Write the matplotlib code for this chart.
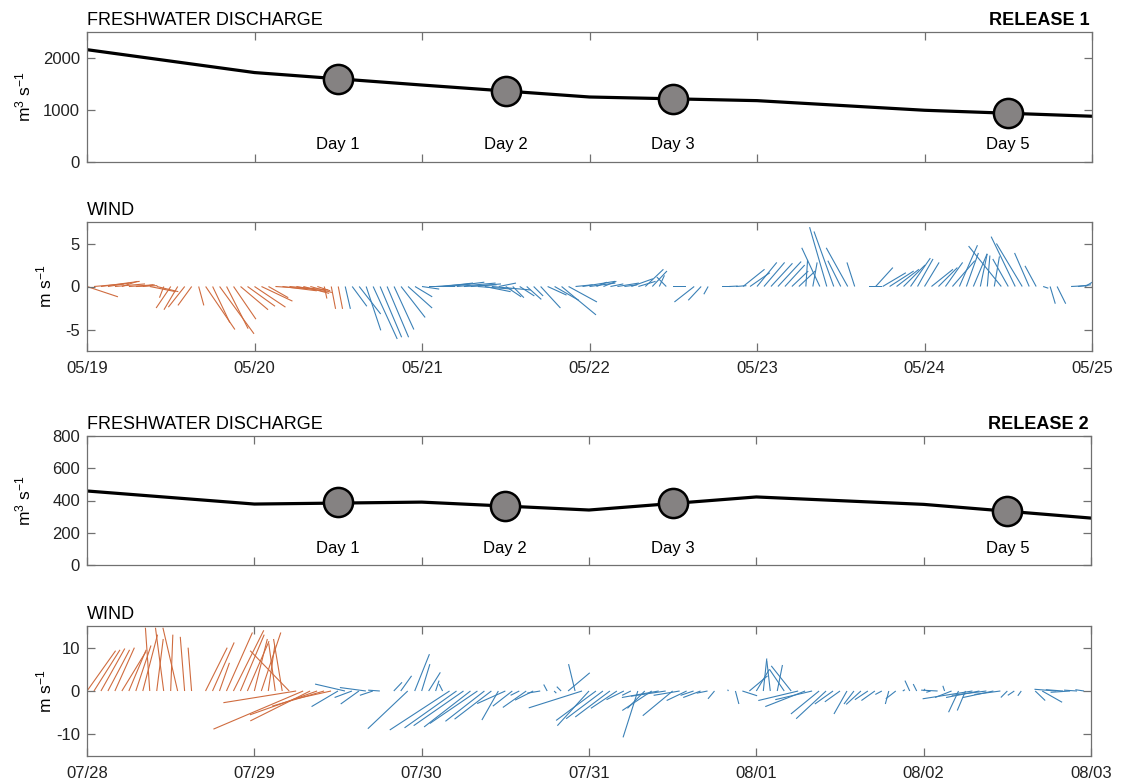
import numpy as np
import matplotlib.pyplot as plt

plt.rcParams['font.family'] = ['Liberation Sans', 'DejaVu Sans']
plt.rcParams['mathtext.default'] = 'regular'
plt.rcParams['axes.unicode_minus'] = False

# ── Freshwater discharge, daily values (m3/s), day 0 = first date ─────────────
days = [0, 1, 2, 3, 4, 5, 6]
q1 = [2160, 1720, 1480, 1250, 1180, 995, 880]
q2 = [459, 378, 390, 341, 422, 376, 291]

release_days = [1.5, 2.5, 3.5, 5.5]
release_labels = ['Day 1', 'Day 2', 'Day 3', 'Day 5']
q1_release = [1600, 1365, 1215, 935]
q2_release = [391, 365, 382, 332]

dates1 = ['05/19', '05/20', '05/21', '05/22', '05/23', '05/24', '05/25']
dates2 = ['07/28', '07/29', '07/30', '07/31', '08/01', '08/02', '08/03']

# ── Hourly wind (m/s), hour 0 = first date ────────────────────────────────────
u1 = [3.6, 3.5, 4.5, 2.5, 3.5, 1.8, 3.0, 2.5, 1.2, 3.0, 2.5, -0.5,
      -1.7, -1.6, -1.9, -1.6, 0.6, 3.4, 2.0, 4.0, 2.5, 2.6, 3.2, 3.2,
      3.6, 3.6, 2.3, 4.5, 4.0, 4.5, 3.5, 3.0, 2.5, 1.5, 0.3, 0.5,
      0.5, 0.6, 1.7, 2.5, 1.7, 2.8, 2.5, 2.5, 2.3, 2.8, 2.8, 2.0,
      2.0, 3.0, 4.0, 3.5, 4.0, 4.5, 3.8, 3.5, 4.0, 3.0, 4.5, 2.0,
      1.8, 1.3, 1.7, 1.7, 1.1, 2.3, 2.2, 2.8, 4.0, 3.3, 2.0, 3.8,
      3.0, 1.2, 1.5, 1.5, 2.5, 1.5, 2.5, 2.0, 2.1, 1.7, 0.6, -1.1,
      1.5, 0, 0, -2.3, -1.5, -0.5, 0, 1.0, 1.0, 1.2, 2.5, 2.3,
      2.3, 2.4, 2.5, 2.7, 2.3, 1.9, 1.9, 0.2, 0.5, -2.1, -2.0, -2.3,
      -1.5, -2.5, -0.9, 0, 1.5, 2.0, 2.7, 2.8, 2.6, 2.5, 2.3, 1.8,
      1.7, 2.5, 2.2, 2.0, 2.6, 2.1, 1.4, 1.6, 0.8, 0.3, 0.6, -3.8,
      -1.8, -2.8, -3.0, -1.7, -1.3, 0.6, 0.6, 1.0, 0, 1.9, 1.5, 1.7,
      1.3]
v1 = [-1.2, 0.3, 0.6, 0.4, 0.3, 0.6, 0.2, 0.1, 0.2, -0.6, -0.6, -1.3,
      -2.5, -2.7, -2.4, -2.2, -2.2, -5.0, -4.2, -5.5, -4.9, -3.8, -2.7, -2.3,
      -2.4, -1.7, -1.3, -0.3, -0.5, -0.4, -0.6, -0.8, -0.7, -0.5, -1.4, -2.6,
      -2.6, -2.6, -2.3, -3.2, -5.1, -6.1, -5.9, -5.9, -5.0, -3.6, -2.5, -1.2,
      -0.3, 0.0, 0.3, 0.4, 0.5, 0.4, 0.2, 0.3, -0.3, -0.6, -0.4, 0.4,
      -1.2, -1.3, -1.1, -1.5, -1.1, -2.5, -1.0, -1.6, -3.3, -1.8, 0.2, 0.6,
      0.4, 0.5, 0.6, 0.3, 0.4, 0.2, 0.9, 0.6, 2.0, 1.8, 1.3, 1.1,
      0.0, 0, 0, -1.8, -1.6, -0.9, 0, 0.0, 0.05, 0.1, 2.0, 1.6,
      2.8, 2.8, 2.7, 2.9, 2.5, 1.8, 1.8, 3.1, 2.8, 4.5, 6.9, 6.4,
      3.0, 4.5, 2.8, 0, 0.0, 2.2, 1.6, 1.8, 2.0, 2.5, 3.3, 3.2,
      2.8, 2.0, 2.2, 2.8, 3.0, 4.8, 3.9, 3.8, 3.8, 3.6, 3.5, 4.7,
      3.2, 5.8, 5.0, 3.9, 2.4, -0.2, -2.0, -2.0, 0, 0.1, 0.2, 1.0,
      1.3]
u2 = [6.6, 6.0, 5.5, 5.0, 4.5, 5.5, 4.0, 3.5, 3.4, -1.0, 1.5, -1.9,
      0.5, -3.4, -1.0, -0.8, 0, 5.0, 5.0, 2.3, 6.0, 7.0, 5.5, 5.0,
      3.0, 4.5, 1.5, -1.5, -2.0, -9.0, -16.8, -20.7, -13.8, -15.5, -12.0, -9.0,
      -6.1, -6.9, -4.0, -4.2, -6.0, -3.0, -2.7, 0, 1.9, 2.5, -9.2, 3.4,
      1.9, 2.7, 0.8, -0.8, -13.8, -12.0, -11.5, -10.7, -11.0, -9.0, -8.5, -3.8,
      -6.5, -4.5, -2.0, -5.4, -4.2, -3.0, -0.8, 0.5, -1.0, 5.0, -1.5, -12.3,
      -7.3, -9.2, -8.5, -8.0, -6.0, -4.0, -2.0, -3.4, -4.0, -6.8, -8.5, -8.0,
      -6.9, -6.0, -4.6, -3.0, -4.0, -2.5, -1.5, 0, -0.2, 0.8, 3.4, 4.2,
      3.0, 0.8, -0.8, 1.2, -3.4, -4.6, -9.2, -9.2, -8.5, -6.5, -6.9, -4.2,
      -3.5, -3.0, -2.3, -3.4, -3.0, -3.1, -1.5, -0.8, -2.3, 0.5, -1.1, -0.8,
      0.3, -1.0, -3.8, -0.4, -3.8, -2.3, -1.9, -11.5, -7.7, -8.0, -7.0, -6.0,
      -1.5, -1.5, -0.8, 0, 2.3, 4.6, 0, -5.0, -4.0, -4.5, -3.0, -2.0,
      0.5]
v2 = [9.3, 9.5, 9.8, 9.5, 10.0, 9.0, 9.5, 10.5, 13.0, 14.6, 12.0, 14.6,
      13.0, 14.6, 12.5, 10.0, 0, 10.0, 11.2, 6.5, 13.5, 14.0, 13.0, 11.5,
      12.0, 13.5, 10.5, 11.0, 12.0, 9.3, -2.7, -8.8, -6.9, -5.5, -3.5, -2.0,
      -3.6, 1.6, -1.5, -3.0, 0.8, -1.0, 0.2, 0, 2.0, 3.5, -8.7, 8.5,
      6.2, 4.3, 2.4, 1.6, -9.0, -8.5, -8.0, -8.3, -7.5, -7.0, -6.5, -6.7,
      -2.9, -3.5, -1.0, -3.8, -2.1, -0.5, 1.5, -0.5, 1.0, 4.2, 6.2, -3.9,
      -8.0, -6.8, -6.4, -6.0, -4.0, -2.0, -1.0, -10.7, -4.0, -4.5, -1.5, -1.2,
      -5.7, -1.0, -2.2, -1.0, -1.5, -0.5, -1.8, 0, 0.3, -3.0, -1.1, 3.5,
      5.0, 7.5, 7.0, 6.0, 5.0, 5.8, -2.2, -3.6, -2.0, -5.3, -6.4, -3.0,
      -2.5, -5.3, -3.0, -3.1, -2.0, -2.2, -0.8, -3.0, -1.8, 0.3, 2.4, 1.6,
      0.5, -0.3, 0.2, 1.2, -1.5, -4.9, -4.5, -1.8, -1.5, -1.0, -1.5, -0.8,
      -1.5, -1.0, -1.1, 0, -2.2, -2.6, 0, 0.4, 0.3, -0.3, 0.2, 0.3,
      -0.1]
# first n hours drawn in orange, rest in blue
n_orange1 = 37
n_orange2 = 36

ORANGE = '#cf6b3e'
BLUE = '#3a80b6'
AXC = '#707070'

W, H = 1125, 784
fig = plt.figure(figsize=(W / 100, H / 100), dpi=100)


def add_ax(top, bottom, left=87, right=1092):
    return fig.add_axes([left / W, 1 - bottom / H, (right - left) / W, (bottom - top) / H])


def style(ax, xlabels=None):
    for s in ax.spines.values():
        s.set_color(AXC)
        s.set_linewidth(0.9)
    ax.tick_params(direction='in', top=True, right=True, length=6, width=0.9,
                   color=AXC, labelsize=12, labelcolor='#222222')
    ax.tick_params(axis='y', pad=5)
    ax.tick_params(axis='x', pad=7)
    ax.set_xlim(0, 6)
    ax.set_xticks(days)
    if xlabels is None:
        ax.set_xticklabels([])
    else:
        ax.set_xticklabels(xlabels)


def head(ax, left, right=None):
    ax.annotate(left, xy=(0, 1), xycoords='axes fraction', xytext=(0, 5),
                textcoords='offset points', ha='left', va='baseline', fontsize=13)
    if right:
        ax.annotate(right, xy=(1, 1), xycoords='axes fraction', xytext=(-2, 5),
                    textcoords='offset points', ha='right', va='baseline',
                    fontsize=13, fontweight='bold')


def discharge(ax, q, qr, ymax, yticks, label_y, title):
    ax.plot(days, q, color='black', lw=2.3, zorder=2)
    ax.plot(release_days, qr, 'o', ms=21, mfc='#858282', mec='black', mew=1.8, zorder=3)
    for d, lab in zip(release_days, release_labels):
        ax.text(d, label_y, lab, ha='center', va='center', fontsize=12)
    style(ax)
    ax.set_ylim(0, ymax)
    ax.set_yticks(yticks)
    ax.set_ylabel('m$^3$ s$^{-1}$', fontsize=12.5)
    ax.yaxis.set_label_coords(-0.053, 0.5)
    head(ax, 'FRESHWATER DISCHARGE', title)


def wind(ax, u, v, n_first, ylim, yticks, xlabels):
    t = np.arange(len(u)) / 24
    u = np.asarray(u, float)
    v = np.asarray(v, float)
    first = np.arange(len(u)) < n_first
    for sel, c in [(first, ORANGE), (~first, BLUE)]:
        sel = sel & (np.hypot(u, v) > 0)
        ax.quiver(t[sel], np.zeros(sel.sum()), u[sel], v[sel], color=c,
                  angles='uv', scale_units='y', scale=1, pivot='tail',
                  units='dots', width=1.1, headwidth=0, headlength=0,
                  headaxislength=0, minlength=0)
    style(ax, xlabels)
    ax.set_ylim(-ylim, ylim)
    ax.set_yticks(yticks)
    ax.set_ylabel('m s$^{-1}$', fontsize=12.5)
    ax.yaxis.set_label_coords(-0.032, 0.5)
    head(ax, 'WIND')


ax1 = add_ax(32, 162)
ax2 = add_ax(222, 351)
ax3 = add_ax(436, 565, right=1091)
ax4 = add_ax(626, 756, right=1091)

discharge(ax1, q1, q1_release, 2500, [0, 1000, 2000], 330, 'RELEASE 1')
wind(ax2, u1, v1, n_orange1, 7.5, [-5, 0, 5], dates1)
discharge(ax3, q2, q2_release, 800, [0, 200, 400, 600, 800], 100, 'RELEASE 2')
wind(ax4, u2, v2, n_orange2, 15, [-10, 0, 10], dates2)

fig.savefig('out.png', dpi=100)
